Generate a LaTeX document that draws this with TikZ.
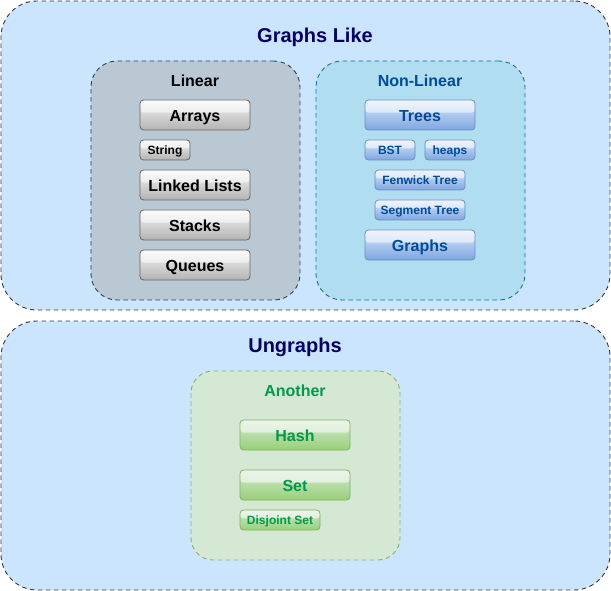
\documentclass[tikz,border=0pt]{standalone}
\usepackage{fontspec}
\setmainfont{Liberation Sans}
\usetikzlibrary{calc}
\definecolor{outerfill}{HTML}{CCE5FF}
\definecolor{outerdraw}{HTML}{36393D}
\definecolor{linfill}{HTML}{BAC8D3}
\definecolor{lindraw}{HTML}{23445D}
\definecolor{nlfill}{HTML}{B1DDF0}
\definecolor{nldraw}{HTML}{10739E}
\definecolor{anfill}{HTML}{D5E8D4}
\definecolor{andraw}{HTML}{82B366}
\definecolor{navy}{HTML}{000066}
\definecolor{nltext}{HTML}{004C99}
\definecolor{antext}{HTML}{00994D}
\definecolor{graytop}{HTML}{F5F5F5}
\definecolor{graybot}{HTML}{B3B3B3}
\definecolor{graydraw}{HTML}{666666}
\definecolor{bluetop}{HTML}{DAE8FC}
\definecolor{bluebot}{HTML}{7EA6E0}
\definecolor{bluedraw}{HTML}{6C8EBF}
\definecolor{greentop}{HTML}{D5E8D4}
\definecolor{greenbot}{HTML}{97D077}
\tikzset{
  dashbox/.style={dash pattern=on 4.5pt off 3.5pt, line width=0.9pt, inner sep=0pt},
  outerbox/.style={dashbox, draw=outerdraw, fill=outerfill, rounded corners=36pt, minimum width=609pt},
  groupbox/.style={dashbox, rounded corners=26pt, minimum width=209pt},
  bigtitle/.style={font=\fontsize{20}{24}\selectfont\bfseries, text=navy, inner sep=0pt, anchor=base},
  grouptitle/.style={font=\fontsize{16}{19}\selectfont\bfseries, inner sep=0pt, anchor=base},
  glass/.style={path picture={\fill[white,opacity=0.55] (path picture bounding box.north west) rectangle ($(path picture bounding box.north east)!0.42!(path picture bounding box.south east)$);}},
  btn/.style={glass, rounded corners=3.5pt, line width=0.8pt, inner sep=0pt},
  graybtn/.style={btn, draw=graydraw, top color=graytop, bottom color=graybot, text=black},
  bluebtn/.style={btn, draw=bluedraw, top color=bluetop, bottom color=bluebot, text=nltext},
  greenbtn/.style={btn, draw=andraw, top color=greentop, bottom color=greenbot, text=antext},
  bigbtn/.style={minimum width=110pt, minimum height=30pt, font=\fontsize{16}{19}\selectfont\bfseries, text height=13pt, text depth=0pt},
  smallbtn/.style={minimum height=20pt, font=\fontsize{12}{14}\selectfont\bfseries, text height=8.6pt, text depth=0pt},
}
\begin{document}
\begin{tikzpicture}[x=1pt,y=-1pt]
\useasboundingbox (0,0) rectangle (611,591);
% outer containers
\node[outerbox, minimum height=309pt] (gl) at (305.5,155.5) {};
\node[outerbox, minimum height=269pt] (ug) at (305.5,455.5) {};
\node[bigtitle] (glt) at (315,42.7) {Graphs Like};
\node[bigtitle] (ugt) at (295,352.7) {Ungraphs};
% group boxes
\node[groupbox, draw=lindraw, fill=linfill, minimum height=239pt] (lin) at (195.5,180.5) {};
\node[groupbox, draw=nldraw, fill=nlfill, minimum height=239pt] (nl) at (420.5,180.5) {};
\node[groupbox, draw=andraw, fill=anfill, minimum height=189pt, rounded corners=22pt] (an) at (295.5,465.5) {};
\node[grouptitle, text=black] (lint) at (195,86.5) {Linear};
\node[grouptitle, text=nltext] (nlt) at (420,86.5) {Non-Linear};
\node[grouptitle, text=antext] (ant) at (295,396) {Another};
% linear buttons
\node[graybtn, bigbtn] (arrays) at (195,115) {Arrays};
\node[graybtn, smallbtn, minimum width=50pt] (string) at (165,150) {String};
\node[graybtn, bigbtn] (ll) at (195,185) {Linked Lists};
\node[graybtn, bigbtn] (stacks) at (195,225) {Stacks};
\node[graybtn, bigbtn] (queues) at (195,265) {Queues};
% non-linear buttons
\node[bluebtn, bigbtn] (trees) at (420,115) {Trees};
\node[bluebtn, smallbtn, minimum width=50pt] (bst) at (390,150) {BST};
\node[bluebtn, smallbtn, minimum width=50pt] (heaps) at (450,150) {heaps};
\node[bluebtn, smallbtn, minimum width=90pt] (fen) at (420,180) {Fenwick Tree};
\node[bluebtn, smallbtn, minimum width=90pt] (seg) at (420,210) {Segment Tree};
\node[bluebtn, bigbtn] (graphs) at (420,245) {Graphs};
% another buttons
\node[greenbtn, bigbtn] (hash) at (295,435) {Hash};
\node[greenbtn, bigbtn] (set) at (295,485) {Set};
\node[greenbtn, smallbtn, minimum width=80pt] (dset) at (280,520) {Disjoint Set};
\end{tikzpicture}
\end{document}
